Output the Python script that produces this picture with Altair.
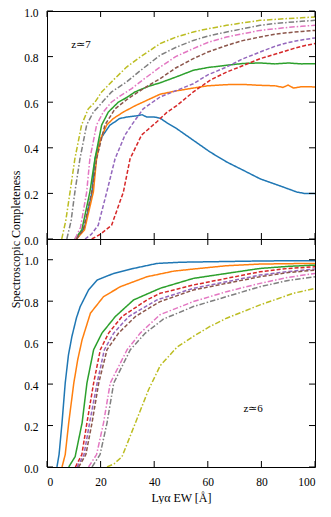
import altair as alt
import pandas as pd

# ---------------- data ----------------
NAMES = ["s1", "s2", "s3", "s4", "s5", "s6", "s7", "s8", "s9"]
COLORS = ["#1f77b4", "#ff7f0e", "#2ca02c", "#d62728", "#9467bd",
          "#8c564b", "#e377c2", "#7f7f7f", "#bcbd22"]
DASHES = [[1, 0], [1, 0], [1, 0], [4, 2], [4, 2], [4, 2],
          [5.5, 2, 1.5, 2], [5.5, 2, 1.5, 2], [5.5, 2, 1.5, 2]]

# z ~ 7 (top panel)
top_blue_x = [11, 14, 16.8, 17.9, 20, 23.5, 25.4, 27, 29.7, 33.4, 35.5, 37.2, 40, 42.2, 44.7, 48.4, 54.6, 60.8, 67, 73.3, 79.5, 85.7, 90, 93.2, 96, 100]
top_blue_y = [0, 0.05, 0.206, 0.352, 0.44, 0.5, 0.514, 0.528, 0.535, 0.54, 0.545, 0.535, 0.535, 0.53, 0.51, 0.484, 0.433, 0.382, 0.338, 0.301, 0.264, 0.238, 0.22, 0.206, 0.2, 0.199]
top_orange_x = [11, 14, 17.3, 18.5, 20, 22.3, 24.7, 28.5, 33, 37.2, 42.2, 48.4, 54.6, 60, 67, 73, 79.5, 85, 88, 90, 92, 95, 100]
top_orange_y = [0, 0.04, 0.206, 0.352, 0.44, 0.5, 0.528, 0.557, 0.585, 0.608, 0.635, 0.65, 0.662, 0.672, 0.677, 0.678, 0.674, 0.672, 0.665, 0.675, 0.662, 0.668, 0.667]
top_green_x = [10.4, 13, 16, 17.9, 20.4, 22.9, 26.6, 29.7, 32.8, 38, 42.2, 48, 54.6, 60, 67, 73.2, 79.5, 85, 90, 95, 100]
top_green_y = [0, 0.04, 0.206, 0.352, 0.5, 0.557, 0.6, 0.62, 0.645, 0.67, 0.685, 0.71, 0.74, 0.752, 0.762, 0.77, 0.772, 0.768, 0.772, 0.768, 0.769]
top_red_x = [16.7, 19.8, 24.1, 28.5, 31, 35.3, 40.9, 44.7, 48.4, 54.6, 60.8, 67, 73, 79.5, 85, 91.9, 96, 100]
top_red_y = [0, 0.02, 0.06, 0.206, 0.352, 0.456, 0.513, 0.555, 0.585, 0.645, 0.696, 0.732, 0.76, 0.791, 0.81, 0.835, 0.848, 0.857]
top_purple_x = [14.2, 16.5, 19.1, 22.3, 25.4, 29.1, 31.6, 35.9, 42.2, 48, 54.6, 60, 67, 73, 79.5, 85, 90, 95, 100]
top_purple_y = [0, 0.02, 0.06, 0.206, 0.352, 0.456, 0.5, 0.571, 0.623, 0.65, 0.681, 0.72, 0.754, 0.79, 0.82, 0.845, 0.862, 0.873, 0.882]
top_brown_x = [11, 13.5, 16.7, 18.5, 21.6, 25.4, 30.3, 36, 42.2, 48, 54.6, 60, 67, 73, 79.5, 85, 90, 95, 100]
top_brown_y = [0, 0.04, 0.206, 0.352, 0.5, 0.571, 0.616, 0.66, 0.703, 0.75, 0.791, 0.82, 0.849, 0.87, 0.886, 0.898, 0.905, 0.91, 0.915]
top_pink_x = [10.4, 12.5, 14.8, 16, 18.5, 21, 24, 27, 31.6, 36, 42.2, 48, 54.6, 60, 67, 73, 79.5, 85, 90, 95, 100]
top_pink_y = [0, 0.05, 0.206, 0.352, 0.5, 0.557, 0.6, 0.625, 0.66, 0.7, 0.754, 0.8, 0.835, 0.862, 0.886, 0.9, 0.915, 0.922, 0.928, 0.933, 0.937]
top_gray_x = [7.4, 9, 10.4, 12.3, 14.8, 17.3, 19.1, 21, 24.1, 29.7, 35, 42.2, 48, 54.6, 60, 67, 73, 79.5, 85, 90, 95, 100]
top_gray_y = [0, 0.08, 0.206, 0.352, 0.5, 0.557, 0.579, 0.605, 0.645, 0.689, 0.74, 0.806, 0.84, 0.871, 0.89, 0.908, 0.922, 0.937, 0.945, 0.95, 0.955, 0.959]
top_olive_x = [5.5, 7, 8.6, 10.4, 12.9, 15.4, 17.9, 20.4, 25, 29.7, 35, 42.2, 48, 54.6, 60, 67, 73, 79.5, 85, 90, 95, 100]
top_olive_y = [0, 0.08, 0.206, 0.352, 0.5, 0.571, 0.6, 0.645, 0.7, 0.754, 0.8, 0.857, 0.885, 0.908, 0.922, 0.937, 0.948, 0.959, 0.963, 0.967, 0.97, 0.974]

# z ~ 6 (bottom panel)
bot_blue_x = [3.7, 4.5, 5.6, 6.8, 8, 9.3, 11, 12.4, 15.5, 18.7, 24.9, 32.3, 41, 50, 60, 70, 80, 90, 100]
bot_blue_y = [0, 0.06, 0.213, 0.405, 0.54, 0.63, 0.72, 0.774, 0.854, 0.902, 0.934, 0.958, 0.982, 0.988, 0.99, 0.992, 0.994, 0.995, 0.995]
bot_orange_x = [5.6, 6.8, 8.1, 10, 11.5, 13.1, 16.2, 21.1, 27.4, 37.3, 47.3, 54.6, 67, 79.5, 90, 100]
bot_orange_y = [0, 0.06, 0.213, 0.405, 0.52, 0.614, 0.742, 0.822, 0.87, 0.918, 0.945, 0.955, 0.971, 0.979, 0.981, 0.982]
bot_green_x = [8.1, 10.5, 13.1, 14.9, 17.4, 20.5, 25.5, 32.3, 42.2, 54.6, 67, 79.5, 90, 100]
bot_green_y = [0, 0.05, 0.213, 0.405, 0.566, 0.646, 0.726, 0.806, 0.862, 0.91, 0.934, 0.958, 0.968, 0.974]
bot_red_x = [10.6, 13, 14.9, 17.4, 19.9, 23, 28, 37.3, 42.2, 47.3, 54.6, 67, 79.5, 90, 100]
bot_red_y = [0, 0.06, 0.213, 0.405, 0.566, 0.646, 0.726, 0.806, 0.838, 0.854, 0.878, 0.91, 0.942, 0.958, 0.966]
bot_purple_x = [11.2, 13.8, 15.9, 18.7, 21.4, 24.9, 30.5, 41, 54.6, 67, 79.5, 90, 100]
bot_purple_y = [0, 0.06, 0.213, 0.405, 0.566, 0.646, 0.726, 0.806, 0.862, 0.894, 0.926, 0.943, 0.955]
bot_brown_x = [11.8, 14.5, 16.8, 19.3, 22.4, 26.7, 33, 39.8, 42.2, 54.6, 67, 79.5, 90, 100]
bot_brown_y = [0, 0.06, 0.213, 0.405, 0.566, 0.646, 0.726, 0.78, 0.798, 0.854, 0.886, 0.918, 0.938, 0.95]
bot_pink_x = [15.5, 18.5, 21.1, 23.6, 29.9, 34.8, 42.2, 54.6, 67, 79.5, 90, 100]
bot_pink_y = [0, 0.06, 0.213, 0.405, 0.566, 0.646, 0.735, 0.798, 0.846, 0.886, 0.915, 0.934]
bot_gray_x = [16.8, 19.8, 22.4, 24.9, 31.1, 36.7, 43.5, 54.6, 67, 79.5, 90, 100]
bot_gray_y = [0, 0.06, 0.213, 0.405, 0.566, 0.646, 0.714, 0.774, 0.822, 0.87, 0.9, 0.918]
bot_olive_x = [22.4, 25, 28, 33, 37.9, 42.3, 48.5, 54.6, 60.8, 67, 79.5, 91.9, 100]
bot_olive_y = [0, 0.015, 0.05, 0.213, 0.373, 0.49, 0.578, 0.63, 0.678, 0.718, 0.782, 0.838, 0.862]

X_TICKS = [0, 20, 40, 60, 80, 100]
Y_TICKS = [0.0, 0.2, 0.4, 0.6, 0.8, 1.0]
TOP_LABEL = ["z≃7"]
TOP_LABEL_POS = [12.7, 0.85]
BOT_LABEL = ["z≃6"]
BOT_LABEL_POS = [76.9, 0.28]

top_series = [(top_blue_x, top_blue_y), (top_orange_x, top_orange_y), (top_green_x, top_green_y),
              (top_red_x, top_red_y), (top_purple_x, top_purple_y), (top_brown_x, top_brown_y),
              (top_pink_x, top_pink_y), (top_gray_x, top_gray_y), (top_olive_x, top_olive_y)]
bot_series = [(bot_blue_x, bot_blue_y), (bot_orange_x, bot_orange_y), (bot_green_x, bot_green_y),
              (bot_red_x, bot_red_y), (bot_purple_x, bot_purple_y), (bot_brown_x, bot_brown_y),
              (bot_pink_x, bot_pink_y), (bot_gray_x, bot_gray_y), (bot_olive_x, bot_olive_y)]


def to_frame(series):
    rows = []
    for i, (xs, ys) in enumerate(series):
        for x, y in zip(xs, ys):
            rows.append({"ew": x, "c": y, "s": NAMES[i]})
    return pd.DataFrame(rows)


W, H = 268, 228
FONT = "Liberation Serif"
TICK = 6


def panel(df, ymax, bottom, label, label_pos, ytitle):
    xs = alt.Scale(domain=[0, 100], nice=False, zero=False)
    ys = alt.Scale(domain=[0, ymax], nice=False, zero=False)
    if bottom:
        xaxis = alt.Axis(values=X_TICKS, format="d", ticks=False, tickSize=0, domain=False,
                         grid=False, labelPadding=9, title="Lyα EW [Å]", titlePadding=5)
    else:
        xaxis = alt.Axis(values=X_TICKS, labels=False, ticks=False, tickSize=0, domain=False,
                         grid=False, title="")
    yargs = dict(values=Y_TICKS, format=".1f", ticks=False, tickSize=0, domain=False,
                 grid=False, labelPadding=9, labelOffset=2)
    if ytitle:
        yaxis = alt.Axis(title=ytitle, titleY=228, titleX=-28, titleAngle=270,
                         titleAlign="center", titleBaseline="alphabetic", **yargs)
    else:
        yaxis = alt.Axis(title="", **yargs)

    X = lambda f: alt.X(f, scale=xs, axis=xaxis)
    Y = lambda f: alt.Y(f, scale=ys, axis=yaxis)

    lines = alt.Chart(df).mark_line(strokeWidth=1.5, clip=True).encode(
        x=X("ew:Q"),
        y=Y("c:Q"),
        color=alt.Color("s:N", scale=alt.Scale(domain=NAMES, range=COLORS), legend=None),
        strokeDash=alt.StrokeDash("s:N", scale=alt.Scale(domain=NAMES, range=DASHES), legend=None),
        order=alt.Order("ew:Q"),
    )
    xt = pd.DataFrame({"ew": X_TICKS})
    yt = pd.DataFrame({"c": Y_TICKS})
    tick_b = alt.Chart(xt).mark_rule(color="black", strokeWidth=1).encode(
        x=X("ew:Q"), y=alt.value(H), y2=alt.value(H - TICK))
    tick_t = alt.Chart(xt).mark_rule(color="black", strokeWidth=1).encode(
        x=X("ew:Q"), y=alt.value(0), y2=alt.value(TICK))
    tick_l = alt.Chart(yt).mark_rule(color="black", strokeWidth=1).encode(
        y=Y("c:Q"), x=alt.value(0), x2=alt.value(TICK))
    tick_r = alt.Chart(yt).mark_rule(color="black", strokeWidth=1).encode(
        y=Y("c:Q"), x=alt.value(W), x2=alt.value(W - TICK))
    lab = alt.Chart(pd.DataFrame({"ew": [label_pos[0]], "c": [label_pos[1]], "t": label})).mark_text(
        font=FONT, fontSize=11, color="black", align="center", baseline="middle").encode(
        x=X("ew:Q"), y=Y("c:Q"), text="t:N")
    return alt.layer(lines, tick_b, tick_t, tick_l, tick_r, lab).properties(width=W, height=H)


top = panel(to_frame(top_series), 1.0, False, TOP_LABEL, TOP_LABEL_POS, "Spectroscopic Completeness")
bot = panel(to_frame(bot_series), 1.1, True, BOT_LABEL, BOT_LABEL_POS, None)

chart = alt.vconcat(top, bot, spacing=0, bounds="flush").resolve_scale(
    color="shared", strokeDash="shared"
).properties(
    padding={"left": 0, "top": -2, "right": 0, "bottom": 0},
    background="white",
).configure_view(
    stroke="black", strokeWidth=1
).configure_axis(
    labelFont=FONT, titleFont=FONT, labelFontSize=11.5, titleFontSize=12,
    labelColor="black", titleColor="black", titleFontWeight="normal"
)

chart.save("out.html", embed_options={"renderer": "svg", "actions": False})
